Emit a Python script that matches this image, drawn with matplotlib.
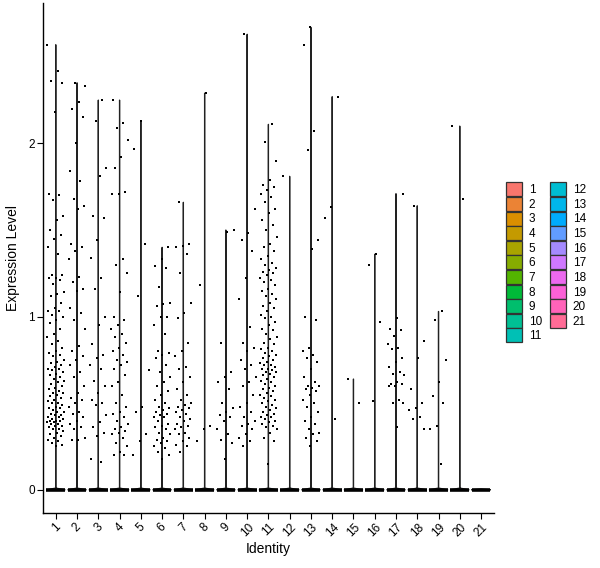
import numpy as np
import matplotlib
matplotlib.use("Agg")
import matplotlib.pyplot as plt
from matplotlib.patches import Patch

plt.rcParams["font.family"] = ["Liberation Sans", "DejaVu Sans"]

# non-zero expression values per identity (zeros drawn as the flat violin base)
identities = [str(i) for i in range(1, 22)]

c1 = [2.57, 2.42, 2.36, 2.35, 2.18, 1.71, 1.70, 1.67, 1.58, 1.56, 1.50, 1.47, 1.45, 1.40, 1.36,
      1.24, 1.24, 1.22, 1.22, 1.21, 1.19, 1.14, 1.13, 1.12, 1.08, 1.05, 1.03, 1.03, 1.01, 1.00,
      0.98, 0.96, 0.93, 0.90, 0.88, 0.86, 0.84, 0.82, 0.80, 0.79, 0.78, 0.77, 0.75, 0.74, 0.73,
      0.72, 0.71, 0.70, 0.70, 0.69, 0.68, 0.67, 0.66, 0.65, 0.64, 0.63, 0.62, 0.61, 0.60, 0.59,
      0.58, 0.57, 0.56, 0.56, 0.55, 0.54, 0.53, 0.52, 0.51, 0.50, 0.50, 0.49, 0.48, 0.47, 0.47,
      0.46, 0.45, 0.45, 0.44, 0.43, 0.43, 0.42, 0.42, 0.41, 0.41, 0.40, 0.40, 0.40, 0.39, 0.39,
      0.38, 0.38, 0.37, 0.37, 0.36, 0.35, 0.35, 0.34, 0.33, 0.32, 0.31, 0.30, 0.29, 0.28, 0.27,
      0.26, 0.25]
c2 = [2.35, 2.33, 2.24, 2.20, 2.15, 2.00, 1.84, 1.78, 1.68, 1.64, 1.62, 1.42, 1.40, 1.38, 1.33,
      1.23, 1.20, 1.16, 1.15, 1.05, 1.02, 0.98, 0.93, 0.83, 0.80, 0.77, 0.75, 0.72, 0.68, 0.65,
      0.60, 0.56, 0.53, 0.52, 0.50, 0.48, 0.45, 0.44, 0.42, 0.40, 0.38, 0.36, 0.35, 0.30, 0.29, 0.29]
c3 = [2.25, 2.13, 1.86, 1.81, 1.58, 1.57, 1.44, 1.34, 1.22, 1.16, 1.00, 0.95, 0.84, 0.78, 0.76,
      0.72, 0.70, 0.63, 0.60, 0.56, 0.52, 0.50, 0.49, 0.43, 0.39, 0.36, 0.33, 0.31, 0.18, 0.16]
c4 = [2.25, 2.12, 2.09, 2.02, 1.92, 1.86, 1.72, 1.71, 1.71, 1.33, 1.30, 1.25, 1.14, 1.00, 0.98,
      0.95, 0.93, 0.90, 0.88, 0.85, 0.82, 0.80, 0.78, 0.75, 0.74, 0.72, 0.70, 0.66, 0.62, 0.60,
      0.55, 0.50, 0.48, 0.45, 0.44, 0.42, 0.40, 0.38, 0.36, 0.35, 0.34, 0.33, 0.32, 0.30, 0.27,
      0.25, 0.22, 0.20, 0.20]
c5 = [2.13, 1.97, 1.42, 1.12, 0.69, 0.48, 0.45, 0.32, 0.28, 0.20]
c6 = [1.40, 1.33, 1.29, 1.28, 1.17, 1.08, 1.07, 1.06, 1.00, 1.00, 0.95, 0.90, 0.80, 0.79, 0.78,
      0.76, 0.72, 0.68, 0.65, 0.62, 0.60, 0.57, 0.55, 0.52, 0.50, 0.48, 0.47, 0.46, 0.45, 0.44,
      0.43, 0.42, 0.42, 0.40, 0.38, 0.37, 0.36, 0.35, 0.33, 0.32, 0.30, 0.29, 0.28, 0.27, 0.25,
      0.24, 0.22, 0.20, 0.18]
c7 = [1.66, 1.42, 1.41, 1.40, 1.36, 1.25, 1.08, 1.02, 0.99, 0.85, 0.80, 0.77, 0.71, 0.70, 0.65,
      0.62, 0.58, 0.55, 0.52, 0.50, 0.49, 0.48, 0.47, 0.46, 0.45, 0.44, 0.42, 0.41, 0.40, 0.38,
      0.37, 0.36, 0.35, 0.33, 0.32, 0.30, 0.28, 0.26, 0.25, 0.22]
c8 = [2.29, 1.18, 0.37, 0.35, 0.28]
c9 = [1.50, 1.49, 0.85, 0.68, 0.65, 0.62, 0.58, 0.50, 0.47, 0.45, 0.43, 0.42, 0.40, 0.35, 0.32,
      0.29, 0.27, 0.18]
c10 = [2.63, 1.62, 1.48, 1.44, 1.38, 1.22, 1.10, 0.94, 0.85, 0.82, 0.80, 0.75, 0.72, 0.70, 0.65,
       0.62, 0.60, 0.55, 0.50, 0.48, 0.45, 0.42, 0.40, 0.38, 0.37, 0.35, 0.32, 0.30, 0.28, 0.25]
c11 = [2.11, 2.01, 1.90, 1.79, 1.76, 1.75, 1.73, 1.71, 1.69, 1.66, 1.62, 1.60, 1.56, 1.53, 1.50,
       1.46, 1.42, 1.40, 1.38, 1.35, 1.33, 1.31, 1.30, 1.28, 1.27, 1.26, 1.25, 1.24, 1.22, 1.21,
       1.20, 1.18, 1.16, 1.15, 1.13, 1.12, 1.10, 1.08, 1.06, 1.05, 1.03, 1.01, 1.00, 0.99, 0.97,
       0.95, 0.93, 0.92, 0.90, 0.88, 0.87, 0.85, 0.84, 0.82, 0.81, 0.80, 0.79, 0.78, 0.77, 0.76,
       0.75, 0.74, 0.73, 0.72, 0.72, 0.71, 0.70, 0.70, 0.69, 0.68, 0.68, 0.67, 0.66, 0.65, 0.64,
       0.63, 0.62, 0.61, 0.60, 0.59, 0.58, 0.57, 0.56, 0.55, 0.54, 0.53, 0.52, 0.51, 0.50, 0.49,
       0.48, 0.47, 0.46, 0.45, 0.44, 0.43, 0.42, 0.42, 0.41, 0.40, 0.39, 0.38, 0.37, 0.36, 0.35,
       0.33, 0.30, 0.28, 0.15]
c12 = [1.81]
c13 = [2.67, 2.57, 2.07, 1.96, 1.44, 1.39, 1.00, 0.98, 0.82, 0.80, 0.78, 0.76, 0.74, 0.70, 0.65,
       0.62, 0.60, 0.60, 0.59, 0.58, 0.57, 0.55, 0.52, 0.50, 0.48, 0.45, 0.42, 0.40, 0.38, 0.35,
       0.33, 0.32, 0.30, 0.28, 0.25]
c14 = [2.27, 1.63, 1.57, 0.41]
c15 = [0.64, 0.50]
c16 = [1.36, 1.30, 0.97, 0.51]
c17 = [1.71, 0.99, 0.93, 0.92, 0.89, 0.84, 0.82, 0.81, 0.76, 0.74, 0.71, 0.68, 0.67, 0.66, 0.62,
       0.61, 0.61, 0.60, 0.60, 0.52, 0.50, 0.50, 0.36]
c18 = [1.64, 0.86, 0.76, 0.58, 0.50, 0.47, 0.46, 0.42, 0.41, 0.35]
c19 = [1.03, 0.98, 0.75, 0.62, 0.54, 0.50, 0.37, 0.35, 0.15]
c20 = [2.10, 1.68]
c21 = []

values = [c1, c2, c3, c4, c5, c6, c7, c8, c9, c10, c11, c12, c13, c14, c15, c16, c17, c18, c19,
          c20, c21]


def hcl_hex(h, c=100.0, l=65.0):
    """ggplot2 hue_pal colour: polar Luv -> sRGB."""
    hr = np.deg2rad(h)
    u, v = c * np.cos(hr), c * np.sin(hr)
    xn, yn, zn = 95.047, 100.0, 108.883
    y = yn * ((l + 16) / 116) ** 3
    d = xn + 15 * yn + 3 * zn
    up = u / (13 * l) + 4 * xn / d
    vp = v / (13 * l) + 9 * yn / d
    x = 9 * y * up / (4 * vp)
    z = y * (12 - 3 * up - 20 * vp) / (4 * vp)
    xyz = np.array([x, y, z]) / 100
    m = np.array([[3.240479, -1.537150, -0.498535],
                  [-0.969256, 1.875992, 0.041556],
                  [0.055648, -0.204043, 1.057311]])
    rgb = m @ xyz
    rgb = np.where(rgb <= 0.0031308, 12.92 * rgb, 1.055 * np.abs(rgb) ** (1 / 2.4) - 0.055)
    rgb = np.clip(rgb, 0, 1)
    return "#%02X%02X%02X" % tuple(int(round(k * 255)) for k in rgb)


n = len(identities)
colors = [hcl_hex(h) for h in np.linspace(15, 375, n + 1)[:n]]

fig = plt.figure(figsize=(6.0, 5.68), dpi=100)
ax = fig.add_axes([0.0717, 0.0968, 0.7513, 0.8979])

for i, vals in enumerate(values):
    x = i + 1
    top = max(vals) if vals else 0.0
    # violin: wide flat base at zero, hair-thin spike up to the max
    if top > 0:
        px = [x - 0.45, x - 0.004, x - 0.002, x + 0.002, x + 0.004, x + 0.45]
        py = [0.0, 0.010, top, top, 0.010, 0.0]
    else:
        px = [x - 0.45, x, x + 0.45]
        py = [0.0, 0.005, 0.0]
    ax.fill(px, py, facecolor=colors[i], edgecolor="#222222", linewidth=0.9, zorder=2)
    ax.plot([x - 0.44, x + 0.44], [0, 0], color="black", linewidth=2.6,
            solid_capstyle="butt", zorder=3)
    if vals:
        k = np.arange(len(vals))
        jit = ((k * 0.618034 + i * 0.371) % 1.0 - 0.5) * 0.8
        ax.scatter(x + jit, vals, s=4, color="black", marker="s", linewidths=0, zorder=4)

ax.set_xlim(0.4, n + 0.6)
ax.set_ylim(-0.134, 2.81)
ax.set_xticks(range(1, n + 1))
ax.set_xticklabels(identities, rotation=45, ha="center", va="top", fontsize=8.5)
ax.set_yticks([0, 1, 2])
ax.set_yticklabels(["0", "1", "2"], fontsize=8.5)
ax.tick_params(axis="both", length=4, width=0.8, color="black", labelcolor="black", pad=2)
ax.set_xlabel("Identity", fontsize=10, labelpad=2)
ax.set_ylabel("Expression Level", fontsize=10, labelpad=6)
for side in ["top", "right"]:
    ax.spines[side].set_visible(False)
for side in ["left", "bottom"]:
    ax.spines[side].set_linewidth(1.0)

handles = [Patch(facecolor=colors[i], edgecolor="#333333", linewidth=0.9, label=identities[i])
           for i in range(n)]
fig.legend(handles=handles, loc="center left", bbox_to_anchor=(0.834, 0.538), ncol=2,
           frameon=False, fontsize=8.5, handlelength=1.35, handleheight=1.45,
           handletextpad=0.55, labelspacing=0.05, columnspacing=0.7, borderpad=0)

fig.savefig("out.png", dpi=100)
